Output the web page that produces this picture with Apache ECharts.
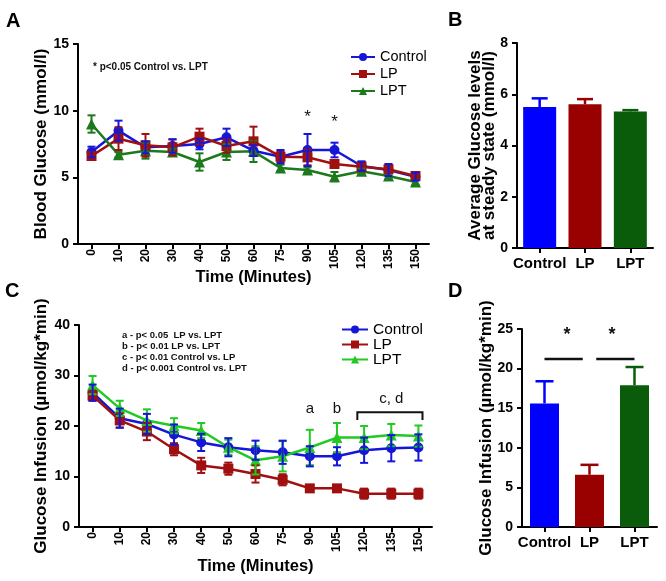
<!DOCTYPE html>
<html>
<head>
<meta charset="utf-8">
<script src="https://cdn.jsdelivr.net/npm/echarts@6/dist/echarts.min.js"></script>
<style>
html,body{margin:0;padding:0;background:#fff;}
#chart{width:666px;height:581px;}
</style>
</head>
<body>
<div id="chart"></div>
<script>
// ---------- data ----------
const timeLabels = ['0','10','20','30','40','50','60','75','90','105','120','135','150'];

// Panel A: blood glucose (mmol/l)
const glucCtrl    = [6.9, 8.5, 7.25, 7.35, 7.5, 8.0, 7.0, 6.55, 7.05, 7.05, 5.85, 5.55, 5.05];
const glucCtrlErr = [0.4, 0.75, 0.45, 0.5, 0.4, 0.65, 0.4, 0.5, 1.2, 0.55, 0.35, 0.45, 0.3];
const glucLP      = [6.6, 7.9, 7.4, 7.25, 8.05, 7.35, 7.7, 6.55, 6.5, 6.0, 5.8, 5.6, 5.1];
const glucLPErr   = [0.3, 0.85, 0.85, 0.6, 0.6, 0.5, 1.1, 0.4, 0.6, 0.3, 0.35, 0.3, 0.25];
const glucLPT     = [9.0, 6.7, 7.0, 6.9, 6.15, 6.9, 6.95, 5.7, 5.55, 5.05, 5.45, 5.1, 4.65];
const glucLPTErr  = [0.65, 0.2, 0.6, 0.25, 0.65, 0.6, 0.8, 0.25, 0.2, 0.35, 0.2, 0.2, 0.2];
const starACats   = ['90','105'];
const starAVals   = [9.5, 9.1];

// Panel B: average glucose at steady state
const groups      = ['Control','LP','LPT'];
const avgGluc     = [5.5, 5.61, 5.33];
const avgGlucErr  = [0.34, 0.2, 0.05];

// Panel C: glucose infusion (µmol/kg*min)
const infCtrl     = [26.6, 21.55, 20.4, 18.3, 16.75, 15.8, 15.2, 14.8, 14.0, 14.0, 15.2, 15.6, 15.75];
const infCtrlErr  = [1.6, 1.9, 2.0, 2.0, 1.7, 1.8, 1.9, 2.3, 2.0, 1.8, 2.5, 2.6, 2.6];
const infLP       = [26.0, 21.1, 18.9, 15.4, 12.2, 11.55, 10.5, 9.35, 7.65, 7.65, 6.6, 6.6, 6.6];
const infLPErr    = [1.0, 1.4, 1.7, 1.2, 1.5, 1.2, 1.7, 1.1, 0.5, 0.6, 1.0, 1.0, 1.0];
const infLPT      = [28.1, 23.5, 21.1, 20.05, 19.1, 15.8, 13.2, 14.0, 15.75, 17.7, 17.7, 18.2, 18.0];
const infLPTErr   = [1.8, 1.5, 2.2, 1.5, 1.5, 1.5, 2.8, 3.0, 3.5, 2.9, 2.3, 2.2, 2.1];
const letterCCats = ['90','105'];
const letterCText = ['a','b'];
const letterCVals = [23.3, 23.3];
const bracketCats = ['120','150'];
const bracketVals = [21.2, 22.7];   // leg bottom, bar level
const bracketText = 'c, d';
const bracketTextVal = 25.3;

// Panel D: mean glucose infusion
const infMean     = [15.6, 6.6, 17.9];
const infMeanErr  = [2.8, 1.25, 2.3];
const sigPairs    = [[0,1],[1,2]];
const sigLevel    = 21.2;
const sigStarVal  = 24.2;

// ---------- styling ----------
const FONT = 'Liberation Sans, Arial, Helvetica, sans-serif';
const cBlue = '#1616d8', cRed = '#a01010', cGreenA = '#1c7a1c', cGreenC = '#22c922';
const barColors = ['#0000ff', '#990000', '#0a5c0a'];

function axisBase() {
  return {
    axisLine: {lineStyle: {color: '#000', width: 2}},
    axisTick: {show: true, length: 5, lineStyle: {color: '#000', width: 2}},
    splitLine: {show: false}
  };
}
function timeAxis(gi) {
  return Object.assign(axisBase(), {
    type: 'category', gridIndex: gi, data: timeLabels, boundaryGap: true,
    axisTick: {show: true, alignWithLabel: true, length: 5, lineStyle: {color: '#000', width: 2}},
    axisLabel: {rotate: 90, margin: 5, fontFamily: FONT, fontWeight: 'bold', fontSize: 12, color: '#000'},
    name: 'Time (Minutes)', nameLocation: 'middle', nameGap: gi === 0 ? 25 : 31, nameMoveOverlap: false,
    nameTextStyle: {fontFamily: FONT, fontWeight: 'bold', fontSize: 16.5, color: '#000'}
  });
}
function groupAxis(gi) {
  return Object.assign(axisBase(), {
    type: 'category', gridIndex: gi, data: groups,
    axisTick: {show: true, alignWithLabel: true, length: 5, lineStyle: {color: '#000', width: 2}},
    axisLabel: {margin: 8, fontFamily: FONT, fontWeight: 'bold', fontSize: 15, color: '#000', interval: 0}
  });
}
function valAxis(gi, max, interval, name, gap, lh) {
  return Object.assign(axisBase(), {
    type: 'value', gridIndex: gi, min: 0, max: max, interval: interval,
    axisLine: {show: true, lineStyle: {color: '#000', width: 2}},
    axisLabel: {margin: 9, fontFamily: FONT, fontWeight: 'bold', fontSize: 14, color: '#000'},
    name: name, nameLocation: 'middle', nameGap: gap, nameMoveOverlap: false,
    nameTextStyle: {fontFamily: FONT, fontWeight: 'bold', fontSize: 17, color: '#000', lineHeight: lh || 20}
  });
}

function lineSeries(name, gi, data, color, symbol) {
  return {
    name: name, type: 'line', xAxisIndex: gi, yAxisIndex: gi, data: data,
    symbol: symbol, symbolSize: symbol === 'triangle' ? 11 : 10, showSymbol: true,
    lineStyle: {color: color, width: 2.5}, itemStyle: {color: color},
    z: 3, animation: false
  };
}
function errSeries(gi, mean, err, color, half, upOnly, lw) {
  return {
    type: 'custom', xAxisIndex: gi, yAxisIndex: gi, z: 4, silent: true, animation: false,
    data: mean.map((m, i) => [i, upOnly ? m : m - err[i], m + err[i]]),
    renderItem: function (params, api) {
      const x = api.value(0);
      const top = api.coord([x, api.value(2)]);
      const bot = api.coord([x, api.value(1)]);
      const st = {stroke: color, lineWidth: lw || 2};
      const kids = [
        {type: 'line', shape: {x1: top[0], y1: top[1], x2: bot[0], y2: bot[1]}, style: st},
        {type: 'line', shape: {x1: top[0] - half, y1: top[1], x2: top[0] + half, y2: top[1]}, style: st}
      ];
      if (!upOnly) kids.push({type: 'line', shape: {x1: bot[0] - half, y1: bot[1], x2: bot[0] + half, y2: bot[1]}, style: st});
      return {type: 'group', children: kids};
    }
  };
}
function textSeries(gi, cats, vals, texts, size, weight) {
  return {
    type: 'custom', xAxisIndex: gi, yAxisIndex: gi, z: 5, silent: true, animation: false,
    data: cats.map((c, i) => [timeLabels.indexOf(c), vals[i]]),
    renderItem: function (params, api) {
      const p = api.coord([api.value(0), api.value(1)]);
      return {type: 'text', x: p[0], y: p[1],
        style: {text: texts[params.dataIndex], fontSize: size, fontWeight: weight || 'normal', fontFamily: FONT,
          fill: '#111', align: 'center', verticalAlign: 'middle'}};
    }
  };
}

const option = {
  backgroundColor: '#fff',
  animation: false,
  grid: [
    {left: 78, top: 44, width: 351, height: 200},
    {left: 517, top: 43, width: 136, height: 205},
    {left: 79, top: 325, width: 353, height: 202},
    {left: 522, top: 329, width: 135, height: 198}
  ],
  xAxis: [timeAxis(0), groupAxis(1), timeAxis(2), groupAxis(3)],
  yAxis: [
    valAxis(0, 15, 5, 'Blood Glucose (mmol/l)', 27),
    valAxis(1, 8, 2, 'Average Glucose levels\nat steady state (mmol/l)', 21, 13.5),
    valAxis(2, 40, 10, 'Glucose Infusion (µmol/kg*min)', 28),
    valAxis(3, 25, 5, 'Glucose Infusion (µmol/kg*min)', 26)
  ],
  legend: [
    {orient: 'vertical', left: 350, top: 49.5, padding: 0, itemWidth: 24, itemHeight: 10, itemGap: 2,
      data: ['Control', 'LP', 'LPT'],
      textStyle: {fontFamily: FONT, fontSize: 14.5, color: '#000', lineHeight: 13}},
    {orient: 'vertical', left: 341, top: 321.5, padding: 0, itemWidth: 26, itemHeight: 10, itemGap: -1,
      data: ['Control (C)', 'LP (C)', 'LPT (C)'],
      formatter: n => n.replace(' (C)', ''),
      textStyle: {fontFamily: FONT, fontSize: 15.5, color: '#000', lineHeight: 13}}
  ],
  graphic: [
    {type: 'text', left: 6, top: 11, style: {text: 'A', fontFamily: FONT, fontWeight: 'bold', fontSize: 20, fill: '#000'}},
    {type: 'text', left: 448, top: 10, style: {text: 'B', fontFamily: FONT, fontWeight: 'bold', fontSize: 20, fill: '#000'}},
    {type: 'text', left: 5, top: 281, style: {text: 'C', fontFamily: FONT, fontWeight: 'bold', fontSize: 20, fill: '#000'}},
    {type: 'text', left: 448, top: 281, style: {text: 'D', fontFamily: FONT, fontWeight: 'bold', fontSize: 20, fill: '#000'}},
    {type: 'text', left: 93, top: 62, style: {text: '* p<0.05 Control vs. LPT', fontFamily: FONT, fontSize: 10, fontWeight: 'bold', fill: '#111'}},
    {type: 'text', left: 122, top: 329.5, style: {text: 'a - p< 0.05  LP vs. LPT\nb - p< 0.01 LP vs. LPT\nc - p< 0.01 Control vs. LP\nd - p< 0.001 Control vs. LPT',
      fontFamily: FONT, fontSize: 9.5, fontWeight: 'bold', lineHeight: 11.2, fill: '#111'}}
  ],
  series: [
    // Panel A
    lineSeries('Control', 0, glucCtrl, cBlue, 'circle'),
    lineSeries('LP', 0, glucLP, cRed, 'rect'),
    lineSeries('LPT', 0, glucLPT, cGreenA, 'triangle'),
    errSeries(0, glucLPT, glucLPTErr, cGreenA, 4),
    errSeries(0, glucLP, glucLPErr, cRed, 4),
    errSeries(0, glucCtrl, glucCtrlErr, cBlue, 4),
    textSeries(0, starACats, starAVals, ['*', '*'], 17),
    // Panel B
    {type: 'bar', xAxisIndex: 1, yAxisIndex: 1, barWidth: 33, animation: false,
      data: avgGluc.map((v, i) => ({value: v, itemStyle: {color: barColors[i]}}))},
    {
      type: 'custom', xAxisIndex: 1, yAxisIndex: 1, z: 4, silent: true, animation: false,
      data: avgGluc.map((m, i) => [i, m, m + avgGlucErr[i]]),
      renderItem: function (params, api) {
        const x = api.value(0), col = barColors[params.dataIndex];
        const top = api.coord([x, api.value(2)]), bot = api.coord([x, api.value(1)]);
        const st = {stroke: col, lineWidth: 2.5};
        return {type: 'group', children: [
          {type: 'line', shape: {x1: top[0], y1: top[1], x2: bot[0], y2: bot[1]}, style: st},
          {type: 'line', shape: {x1: top[0] - 8, y1: top[1], x2: top[0] + 8, y2: top[1]}, style: st}]};
      }
    },
    // Panel C
    lineSeries('Control (C)', 2, infCtrl, cBlue, 'circle'),
    lineSeries('LP (C)', 2, infLP, cRed, 'rect'),
    lineSeries('LPT (C)', 2, infLPT, cGreenC, 'triangle'),
    errSeries(2, infLP, infLPErr, cRed, 4),
    errSeries(2, infLPT, infLPTErr, cGreenC, 4),
    errSeries(2, infCtrl, infCtrlErr, cBlue, 4),
    textSeries(2, letterCCats, letterCVals, letterCText, 15),
    {
      type: 'custom', xAxisIndex: 2, yAxisIndex: 2, z: 5, silent: true, animation: false,
      data: [[timeLabels.indexOf(bracketCats[0]), timeLabels.indexOf(bracketCats[1]), bracketVals[0], bracketVals[1], bracketTextVal]],
      renderItem: function (params, api) {
        const bw = api.size([1, 0])[0];
        const a = api.coord([api.value(0), api.value(3)]);
        const b = api.coord([api.value(1), api.value(3)]);
        const low = api.coord([api.value(0), api.value(2)]);
        const x1 = a[0] - 0.25 * bw, x2 = b[0] + 0.15 * bw;
        const t = api.coord([(api.value(0) + api.value(1)) / 2, api.value(4)]);
        return {type: 'group', children: [
          {type: 'polyline', shape: {points: [[x1, low[1]], [x1, a[1]], [x2, a[1]], [x2, low[1]]]},
            style: {stroke: '#111', lineWidth: 2, fill: null}},
          {type: 'text', x: t[0], y: t[1], style: {text: bracketText, fontFamily: FONT, fontSize: 15, fill: '#111', align: 'center', verticalAlign: 'middle'}}
        ]};
      }
    },
    // Panel D
    {type: 'bar', xAxisIndex: 3, yAxisIndex: 3, barWidth: 29, animation: false,
      data: infMean.map((v, i) => ({value: v, itemStyle: {color: barColors[i]}}))},
    {
      type: 'custom', xAxisIndex: 3, yAxisIndex: 3, z: 4, silent: true, animation: false,
      data: infMean.map((m, i) => [i, m, m + infMeanErr[i]]),
      renderItem: function (params, api) {
        const x = api.value(0), col = barColors[params.dataIndex];
        const top = api.coord([x, api.value(2)]), bot = api.coord([x, api.value(1)]);
        const st = {stroke: col, lineWidth: 2.5};
        return {type: 'group', children: [
          {type: 'line', shape: {x1: top[0], y1: top[1], x2: bot[0], y2: bot[1]}, style: st},
          {type: 'line', shape: {x1: top[0] - 9, y1: top[1], x2: top[0] + 9, y2: top[1]}, style: st}]};
      }
    },
    {
      type: 'custom', xAxisIndex: 3, yAxisIndex: 3, z: 5, silent: true, animation: false,
      data: sigPairs.map(p => [p[0], p[1], sigLevel, sigStarVal]),
      renderItem: function (params, api) {
        const bw = api.size([1, 0])[0];
        const a = api.coord([api.value(0), api.value(2)]);
        const b = api.coord([api.value(1), api.value(2)]);
        const s = api.coord([api.value(0), api.value(3)]);
        const first = params.dataIndex === 0;
        const x1 = first ? a[0] : a[0] + 0.15 * bw;
        const x2 = first ? b[0] - 0.15 * bw : b[0];
        return {type: 'group', children: [
          {type: 'line', shape: {x1: x1, y1: a[1], x2: x2, y2: a[1]}, style: {stroke: '#111', lineWidth: 2.5}},
          {type: 'text', x: (a[0] + b[0]) / 2, y: s[1], style: {text: '*', fontFamily: FONT, fontSize: 18, fontWeight: 'bold', fill: '#111', align: 'center', verticalAlign: 'middle'}}
        ]};
      }
    }
  ]
};

const chart = echarts.init(document.getElementById('chart'), null, {renderer: 'canvas'});
chart.setOption(option);
</script>
</body>
</html>
